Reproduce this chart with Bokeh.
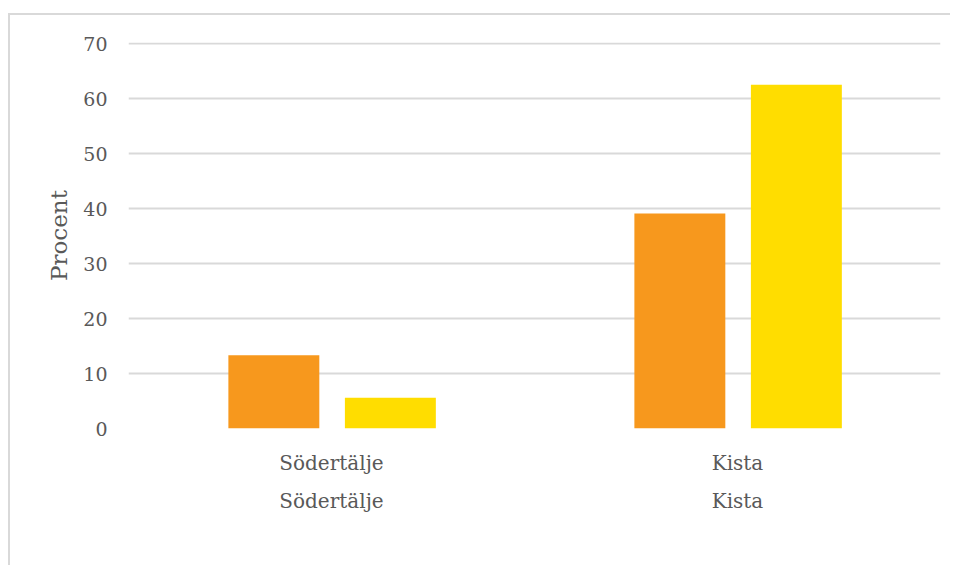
from bokeh.plotting import figure
from bokeh.models import (ColumnDataSource, Legend, LegendItem, FactorRange, Range1d,
                          CategoricalAxis)
from bokeh.transform import dodge
from bokeh.embed import file_html
from bokeh.resources import INLINE

# Share of respondents (percent) before and after, per site
sites = ["Södertälje", "Kista"]
sample_sizes = ["Före n=75, efter n=18", "Före n=64, efter n=16"]
fore = [13.3, 39.1]
efter = [5.6, 62.5]
y_ticks = [0, 10, 20, 30, 40, 50, 60, 70]

FONT = "DejaVu Serif"
TEXT = "#595959"
GRID = "#d9d9d9"
ORANGE = "#F7981D"
YELLOW = "#FFDD00"

src = ColumnDataSource(data=dict(site=sites, fore=fore, efter=efter))

p = figure(
    x_range=FactorRange(*sites, range_padding=0),
    y_range=Range1d(0, 70.2),
    frame_width=812, frame_height=386,
    min_border_left=118, min_border_right=10,
    min_border_top=27, min_border_bottom=0,
    output_backend="svg", toolbar_location=None,
)
p.margin = (13, 0, 0, 8)
p.styles = {"border-top": f"2px solid {GRID}", "border-left": f"2px solid {GRID}"}

r1 = p.vbar(x=dodge("site", -0.142, range=p.x_range), top="fore", width=0.224,
            source=src, color=ORANGE, line_color=None)
r2 = p.vbar(x=dodge("site", 0.145, range=p.x_range), top="efter", width=0.224,
            source=src, color=YELLOW, line_color=None)

p.outline_line_color = None
p.background_fill_color = "white"
p.border_fill_color = "white"

p.xgrid.grid_line_color = None
p.ygrid.grid_line_color = GRID
p.ygrid.grid_line_width = 2
p.yaxis.ticker = y_ticks

# Second row of category labels: sample sizes under each site name
sample_axis = CategoricalAxis(
    major_label_overrides={s: n for s, n in zip(sites, sample_sizes)})
p.add_layout(sample_axis, "below")

for ax in (p.xaxis, p.yaxis):
    ax.axis_line_color = None
    ax.major_tick_line_color = None
    ax.minor_tick_line_color = None
    ax.major_label_text_font = FONT
    ax.major_label_text_color = TEXT
    ax.major_label_text_font_size = "19px"

p.xaxis.major_label_text_font_size = "20px"
p.xaxis[0].major_label_standoff = 16
sample_axis.major_label_standoff = 5
p.yaxis.major_label_standoff = 15
p.yaxis.axis_label = "Procent"
p.yaxis.axis_label_text_font = FONT
p.yaxis.axis_label_text_font_style = "normal"
p.yaxis.axis_label_text_color = TEXT
p.yaxis.axis_label_text_font_size = "23px"
p.yaxis.axis_label_standoff = 8

legend = Legend(
    items=[LegendItem(label="Före", renderers=[r1]),
           LegendItem(label="Efter", renderers=[r2])],
    orientation="horizontal", location="center",
    label_text_font=FONT, label_text_color=TEXT, label_text_font_size="20px",
    glyph_width=13, glyph_height=13, spacing=14, label_standoff=5,
    border_line_color=None, background_fill_alpha=0, padding=10, margin=16,
)
p.add_layout(legend, "below")

open("out.html", "w").write(file_html(p, INLINE))
